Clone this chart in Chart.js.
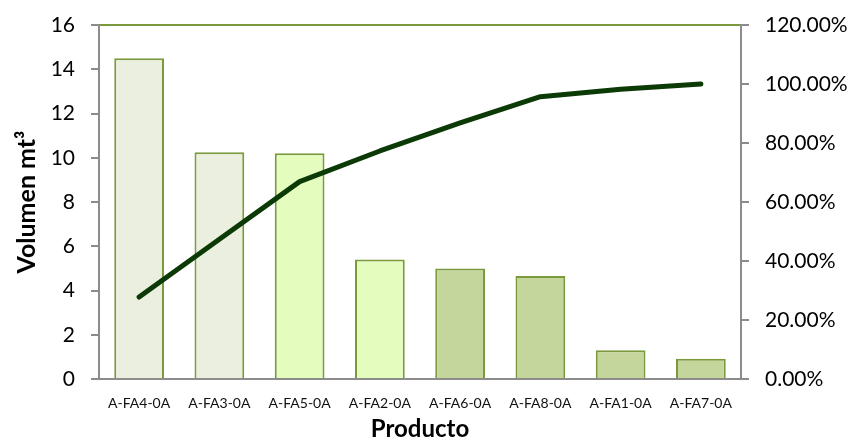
<!DOCTYPE html>
<html>
<head>
<meta charset="utf-8">
<script src="https://cdn.jsdelivr.net/npm/chart.js@4"></script>
<style>
  html, body { margin: 0; padding: 0; background: #fff; }
  #wrap { width: 862px; height: 444px; }
</style>
</head>
<body>
<div id="wrap"><canvas id="pareto"></canvas></div>
<script>
// Products, volume per product and cumulative share (Pareto)
const productos = ["A-FA4-0A", "A-FA3-0A", "A-FA5-0A", "A-FA2-0A", "A-FA6-0A", "A-FA8-0A", "A-FA1-0A", "A-FA7-0A"];
const volumen = [14.5, 10.25, 10.2, 5.4, 5.0, 4.65, 1.3, 0.92];
const acumulado = [27.8, 47.4, 66.9, 77.3, 86.8, 95.7, 98.2, 100];
const barColors = ["#ebefdf", "#ebefdf", "#e4fdbe", "#e4fdbe", "#c4d69b", "#c4d69b", "#c4d69b", "#c4d69b"];

const FONT = "Lato, 'Open Sans', sans-serif";
const AXIS_GRAY = "#8c8c8c";
const OLIVE = "#7b9a3e";

// fixed side widths so the plot area sits at the same place every time
function fixSide(width) {
  return (s) => {
    s.width = width;
    s.paddingTop = 0;
    s.paddingBottom = 0;
  };
}

const chart = new Chart(document.getElementById("pareto"), {
  data: {
    labels: productos,
    datasets: [
      {
        type: "line",
        label: "Acumulado",
        data: acumulado,
        yAxisID: "y1",
        borderColor: "#0b3a06",
        borderWidth: 5,
        borderCapStyle: "round",
        borderJoinStyle: "round",
        pointRadius: 0,
        tension: 0,
        order: 0,
      },
      {
        type: "bar",
        label: "Volumen",
        data: volumen,
        yAxisID: "y",
        backgroundColor: barColors,
        borderColor: OLIVE,
        borderWidth: 2,
        categoryPercentage: 1,
        barPercentage: 0.62,
        order: 1,
      },
    ],
  },
  options: {
    responsive: true,
    maintainAspectRatio: false,
    animation: false,
    layout: { padding: { top: 25, left: 12, right: 0, bottom: 0 } },
    plugins: { legend: { display: false }, tooltip: { enabled: false } },
    scales: {
      x: {
        grid: { display: false },
        border: { color: AXIS_GRAY, width: 2 },
        ticks: { color: "#111", font: { family: FONT, size: 14 }, padding: 8, maxRotation: 0 },
        title: {
          display: true,
          text: "Producto",
          color: "#000",
          font: { family: FONT, size: 24, weight: "bold" },
          padding: { top: 2, bottom: 0 },
        },
        afterFit: (s) => { s.height = 65; },
      },
      y: {
        position: "left",
        min: 0,
        max: 16,
        ticks: { stepSize: 2, color: "#000", font: { family: FONT, size: 21 }, padding: 16 },
        grid: {
          // only the top line is drawn across the plot
          color: (ctx) => (ctx.tick && ctx.tick.value === 16 ? OLIVE : "rgba(0,0,0,0)"),
          lineWidth: 2,
          tickColor: AXIS_GRAY,
          tickLength: 8,
        },
        border: { color: AXIS_GRAY, width: 2 },
        title: {
          display: true,
          text: "Volumen mt³",
          color: "#000",
          font: { family: FONT, size: 25, weight: "bold" },
          padding: { top: 0, bottom: 0 },
        },
        afterFit: fixSide(87),
      },
      y1: {
        position: "right",
        min: 0,
        max: 120,
        ticks: {
          stepSize: 20,
          color: "#000",
          font: { family: FONT, size: 21 },
          padding: 16,
          callback: (v) => v.toFixed(2) + "%",
        },
        grid: { drawOnChartArea: false, color: AXIS_GRAY, tickLength: 8, lineWidth: 2 },
        border: { color: AXIS_GRAY, width: 2 },
        afterFit: fixSide(121),
      },
    },
  },
});
</script>
</body>
</html>
